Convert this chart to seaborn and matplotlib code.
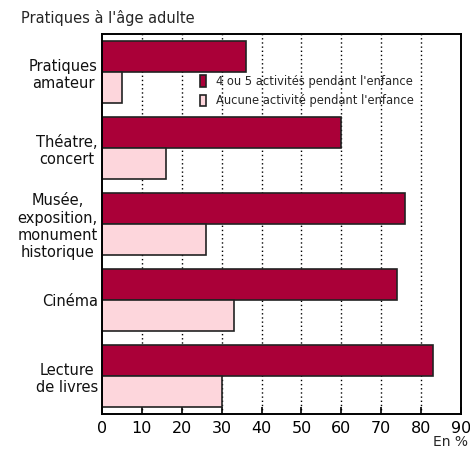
import matplotlib
matplotlib.use("Agg")
import matplotlib.pyplot as plt
import pandas as pd
import seaborn as sns
from matplotlib.patches import Patch

sns.set_theme(style="white")
plt.rcParams["font.family"] = ["DejaVu Sans"]

# Données (en %)
pratiques = ["Pratiques\namateur", "Théatre,\nconcert",
             "Musée,\nexposition,\nmonument\nhistorique", "Cinéma",
             "Lecture\nde livres"]
groupes = ["4 ou 5 activités pendant l'enfance",
           "Aucune activité pendant l'enfance"]
actifs = [36, 60, 76, 74, 83]
aucune = [5, 16, 26, 33, 30]
ticks_x = [0, 10, 20, 30, 40, 50, 60, 70, 80, 90]

couleurs = ["#AA0038", "#FDD6DC"]

df = pd.DataFrame({
    "pratique": pratiques * 2,
    "groupe": [groupes[0]] * len(pratiques) + [groupes[1]] * len(pratiques),
    "valeur": actifs + aucune,
})

fig = plt.figure(figsize=(4.7, 4.5), dpi=100)
ax = fig.add_axes([0.217, 0.08, 0.764, 0.844])

for x in ticks_x[1:-1]:
    ax.axvline(x, color="black", ls=(0, (1, 2)), lw=1, zorder=0)

sns.barplot(data=df, y="pratique", x="valeur", hue="groupe", order=pratiques,
            hue_order=groupes, palette=couleurs, saturation=1, orient="h",
            width=0.82, edgecolor="#222222", linewidth=1.2, ax=ax, zorder=2,
            legend=False)

ax.set_xlim(0, 90)
ax.set_ylim(4.5, -0.5)
ax.set_xticks(ticks_x)
ax.set_xlabel("")
ax.set_ylabel("")
ax.tick_params(axis="x", direction="in", length=5, width=1.2, pad=5,
               labelsize=11.5, colors="black", bottom=True)
ax.tick_params(axis="y", length=0, pad=3, labelsize=10.5, colors="#111111")
for lab in ax.get_yticklabels():
    lab.set_multialignment("center")
for sp in ax.spines.values():
    sp.set_color("black")
    sp.set_linewidth(1.4)

handles = [Patch(facecolor=c, edgecolor="#222222", linewidth=1.2) for c in couleurs]
ax.legend(handles, groupes, loc="upper left", bbox_to_anchor=(0.26, 0.905),
          frameon=False, fontsize=8.3, handlelength=0.55, handleheight=1.1,
          handletextpad=0.8, labelspacing=0.55, borderaxespad=0)

fig.text(0.045, 0.96, "Pratiques à l'âge adulte", fontsize=10.5, va="center")
fig.text(0.995, 0.003, "En %", fontsize=10, ha="right", va="bottom")

fig.savefig("out.png", dpi=100)
